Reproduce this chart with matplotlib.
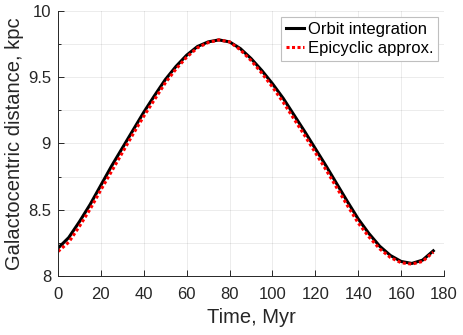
import numpy as np
import matplotlib
matplotlib.use("Agg")
import matplotlib.pyplot as plt
from matplotlib.ticker import MultipleLocator, FuncFormatter

plt.rcParams["font.family"] = ["Liberation Sans", "DejaVu Sans"]

# time in Myr, galactocentric distance in kpc
t_myr = [0, 5, 10, 15, 20, 25, 30, 35, 40, 45, 50, 55, 60, 65, 70, 75, 80, 85,
         90, 95, 100, 105, 110, 115, 120, 125, 130, 135, 140, 145, 150, 155,
         160, 165, 170, 175]
r_orbit = [8.21, 8.29, 8.41, 8.54, 8.685, 8.83, 8.965, 9.10, 9.235, 9.36,
           9.48, 9.58, 9.665, 9.73, 9.765, 9.78, 9.765, 9.715, 9.64, 9.55,
           9.45, 9.34, 9.215, 9.09, 8.96, 8.83, 8.695, 8.56, 8.43, 8.32,
           8.225, 8.155, 8.11, 8.095, 8.12, 8.19]
r_epi = [8.185, 8.255, 8.375, 8.505, 8.65, 8.79, 8.93, 9.07, 9.205, 9.33,
         9.455, 9.56, 9.65, 9.72, 9.76, 9.78, 9.765, 9.705, 9.625, 9.53,
         9.425, 9.31, 9.185, 9.06, 8.93, 8.80, 8.665, 8.53, 8.40, 8.295,
         8.205, 8.14, 8.10, 8.09, 8.11, 8.18]

fig = plt.figure(figsize=(4.63, 3.35), dpi=100)
ax = fig.add_axes([0.1253, 0.176, 0.8337, 0.792])

ax.plot(t_myr, r_orbit, color="k", lw=2.2, label="Orbit integration")
ax.plot(t_myr, r_epi, color="r", lw=2.2, linestyle=(0, (1, 0.8)),
        label="Epicyclic approx.")

ax.set_xlim(0, 180)
ax.set_ylim(8, 10)
ax.xaxis.set_major_locator(MultipleLocator(20))
ax.yaxis.set_major_locator(MultipleLocator(0.5))
ax.yaxis.set_minor_locator(MultipleLocator(0.25))
ax.yaxis.set_major_formatter(FuncFormatter(lambda v, p: f"{v:g}"))

ax.grid(True, which="both", color="0.15", alpha=0.09, lw=0.7)
ax.set_axisbelow(True)
for s in ["top", "right"]:
    ax.spines[s].set_visible(False)
for s in ["left", "bottom"]:
    ax.spines[s].set_color("0.15")
    ax.spines[s].set_linewidth(0.7)
ax.tick_params(which="both", direction="in", colors="0.15", labelsize=12,
               width=0.7)
ax.tick_params(which="major", length=4)
ax.tick_params(which="minor", length=2.5)
ax.tick_params(axis="x", pad=8)
ax.tick_params(axis="y", pad=5)

ax.set_xlabel("Time, Myr", fontsize=14.5, color="0.15", labelpad=4)
ax.set_ylabel("Galactocentric distance, kpc", fontsize=14.5, color="0.15",
              labelpad=3)

leg = ax.legend(loc="upper right", fontsize=12, fancybox=False,
                edgecolor="0.75", framealpha=1, handlelength=1.1,
                handletextpad=0.2, borderpad=0.3, labelspacing=0.25,
                borderaxespad=0.35)
leg.get_frame().set_linewidth(0.8)

fig.savefig("out.png", dpi=100)
